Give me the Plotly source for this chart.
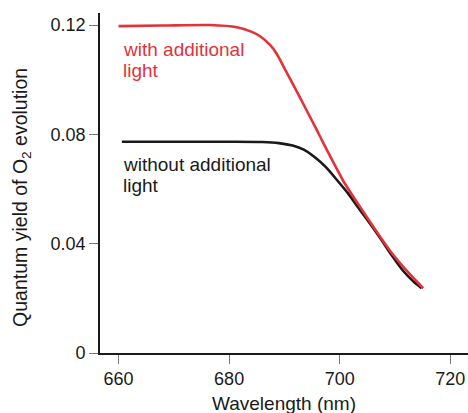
import plotly.graph_objects as go

# Data
wl_with = [660.0, 668.0, 676.5, 681.4, 684.0, 685.6, 687.4, 688.6, 689.8, 692.8, 695.8,
           697.0, 700.9, 703.5, 706.1, 709.1, 712.1, 715.1]
qy_with = [0.1196, 0.1198, 0.1200, 0.1192, 0.1176, 0.1159, 0.1127, 0.1095, 0.1050, 0.0935,
           0.0818, 0.0770, 0.0621, 0.0540, 0.0461, 0.0374, 0.0301, 0.0237]

wl_without = [660.6, 670.0, 680.0, 686.0, 689.0, 691.5, 693.5, 695.5, 697.5, 699.5, 701.5,
              703.5, 705.5, 707.5, 709.5, 711.5, 713.3, 714.8]
qy_without = [0.0773, 0.0773, 0.0773, 0.0772, 0.0768, 0.0759, 0.0744, 0.0716, 0.0680, 0.0633,
              0.0584, 0.0528, 0.0473, 0.0415, 0.0355, 0.0300, 0.0262, 0.0237]

x_ticks = [660, 680, 700, 720]
y_ticks = [0, 0.04, 0.08, 0.12]
y_ticklabels = ["0", "0.04", "0.08", "0.12"]

RED = "#e2333b"
BLACK = "#1a1a1a"
FONT = "Liberation Sans, Arial, sans-serif"

fig = go.Figure()
fig.add_trace(go.Scatter(x=wl_without, y=qy_without, mode="lines",
                         line=dict(color=BLACK, width=2.6, shape="spline", smoothing=0.7),
                         showlegend=False, hoverinfo="skip"))
fig.add_trace(go.Scatter(x=wl_with, y=qy_with, mode="lines",
                         line=dict(color=RED, width=2.6, shape="spline", smoothing=0.7),
                         showlegend=False, hoverinfo="skip"))

labels = [
    ("with additional", 0.1112, RED),
    ("light", 0.1034, RED),
    ("without additional", 0.0688, BLACK),
    ("light", 0.0612, BLACK),
]
for txt, yv, col in labels:
    fig.add_annotation(x=660.7, y=yv, xref="x", yref="y", xanchor="left", yanchor="middle",
                       text=txt, showarrow=False, borderpad=0,
                       font=dict(family=FONT, size=19, color=col))

fig.add_annotation(x=-0.212, y=0.459, xref="paper", yref="paper", xanchor="center", yanchor="middle",
                   text="Quantum yield of O<sub>2</sub> evolution", textangle=-90, showarrow=False,
                   font=dict(family=FONT, size=19.5, color=BLACK))
fig.add_annotation(x=0.5, y=-0.150, xref="paper", yref="paper", xanchor="center", yanchor="middle",
                   text="Wavelength (nm)", showarrow=False,
                   font=dict(family=FONT, size=19, color=BLACK))

fig.update_layout(
    width=468, height=413,
    margin=dict(l=100, r=0, t=13, b=60),
    paper_bgcolor="white", plot_bgcolor="white",
    font=dict(family=FONT, size=18, color=BLACK),
    xaxis=dict(range=[656.65, 723.2], tickvals=x_ticks, ticks="outside", ticklen=9,
               tickcolor="#777777", tickwidth=1.2, showline=True, linecolor=BLACK, linewidth=1.6,
               showgrid=False, zeroline=False, automargin=False),
    yaxis=dict(range=[0, 0.1244], tickvals=y_ticks, ticktext=y_ticklabels, ticks="outside",
               ticklen=9, tickcolor="#777777", tickwidth=1.2, showline=True, linecolor=BLACK,
               linewidth=1.6, showgrid=False, zeroline=False, automargin=False),
)

# remove the page's default body margin so the figure fills the window exactly
fig.write_html("out.html", config={"displayModeBar": False},
               post_script="document.body.style.margin='0';document.body.style.overflow='hidden';")
